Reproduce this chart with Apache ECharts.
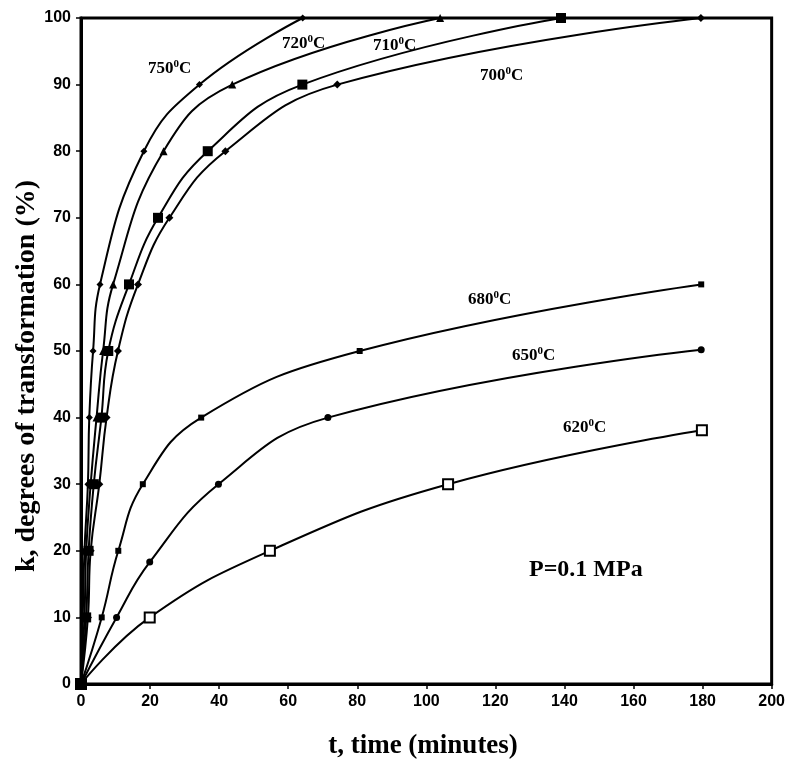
<!DOCTYPE html>
<html><head><meta charset="utf-8">
<script src="https://cdn.jsdelivr.net/npm/echarts@6/dist/echarts.min.js"></script>
<style>html,body{margin:0;padding:0;background:#fff}#c{width:788px;height:770px}</style>
</head><body><div id="c"></div>
<script>
// time (minutes), degree of transformation (%)
const t750 = [0, 0.5, 1, 2, 2.4, 3.5, 5.5, 18.2, 34.3, 64.2];
const k750 = [0, 10, 20, 30, 40, 50, 60, 80, 90, 100];
const t720 = [0, 1, 1.5, 2.8, 4.5, 6.4, 9.3, 23.9, 43.8, 104];
const k720 = [0, 10, 20, 30, 40, 50, 60, 80, 90, 100];
const t710 = [0, 1.5, 2.2, 3.7, 5.9, 7.9, 13.9, 22.3, 36.7, 64.1, 139];
const k710 = [0, 10, 20, 30, 40, 50, 60, 70, 80, 90, 100];
const t700 = [0, 2, 2.8, 5.3, 7.4, 10.7, 16.5, 25.6, 41.8, 74.2, 179.5];
const k700 = [0, 10, 20, 30, 40, 50, 60, 70, 80, 90, 100];
const t680 = [0, 6, 10.8, 17.9, 34.8, 80.7, 179.6];
const k680 = [0, 10, 20, 30, 40, 50, 60];
const t650 = [0, 10.3, 19.9, 39.8, 71.5, 179.6];
const k650 = [0, 10, 18.3, 30, 40, 50.2];
const t620 = [0, 19.9, 54.7, 106.3, 179.8];
const k620 = [0, 10, 20, 30, 38.1];
const xTicks = [0, 20, 40, 60, 80, 100, 120, 140, 160, 180, 200];
const yTicks = [0, 10, 20, 30, 40, 50, 60, 70, 80, 90, 100];

const pair = (xs, ys) => xs.map((x, i) => [x, ys[i]]);
const serif = '"Liberation Serif", "Times New Roman", serif';
const sans = '"Liberation Sans", Arial, sans-serif';

function line(name, xs, ys, symbol, size, hollow) {
  return {
    name, type: 'line', data: pair(xs, ys), smooth: 0.45,
    symbol, symbolSize: size, showSymbol: true,
    lineStyle: { color: '#000', width: 2 },
    itemStyle: hollow ? { color: '#fff', borderColor: '#000', borderWidth: 2 } : { color: '#000', borderWidth: 0 },
    z: hollow ? 1 : 2, animation: false
  };
}

const chart = echarts.init(document.getElementById('c'), null, { renderer: 'canvas' });
function lbl(num, x, y) {
  return { type: 'text', left: x, top: y, z: 10,
    style: { text: num + '{s|0}C', font: 'bold 17px ' + serif, fill: '#000',
      rich: { s: { fontSize: 11, fontWeight: 'bold', fontFamily: serif, verticalAlign: 'top', lineHeight: 19 } } } };
}
chart.setOption({
  animation: false,
  backgroundColor: '#fff',
  grid: { left: 81, right: 13, top: 18, bottom: 86, show: true, borderColor: '#000', borderWidth: 3 },
  xAxis: {
    type: 'value', min: 0, max: 200, interval: 20,
    axisLine: { lineStyle: { color: '#000', width: 3 } },
    axisTick: { show: true, inside: false, length: 5, lineStyle: { color: '#000', width: 1.5 } },
    axisLabel: { fontFamily: sans, fontWeight: 'bold', fontSize: 16, color: '#000', margin: 10,
      formatter: v => xTicks.includes(v) ? String(v) : '' },
    splitLine: { show: false }
  },
  yAxis: {
    type: 'value', min: 0, max: 100, interval: 10,
    axisLine: { lineStyle: { color: '#000', width: 3 } },
    axisTick: { show: true, inside: false, length: 5, lineStyle: { color: '#000', width: 1.5 } },
    axisLabel: { fontFamily: sans, fontWeight: 'bold', fontSize: 16, color: '#000', margin: 10,
      formatter: v => yTicks.includes(v) ? String(v) : '' },
    splitLine: { show: false }
  },
  series: [
    line('750', t750, k750, 'diamond', 7),
    line('720', t720, k720, 'triangle', 8),
    line('710', t710, k710, 'rect', 10),
    line('700', t700, k700, 'diamond', 8),
    line('680', t680, k680, 'rect', 6),
    line('650', t650, k650, 'circle', 7),
    line('620', t620, k620, 'rect', 10, true)
  ],
  graphic: [
    lbl('750', 148, 59),
    lbl('720', 282, 34),
    lbl('710', 373, 36),
    lbl('700', 480, 66),
    lbl('680', 468, 290),
    lbl('650', 512, 346),
    lbl('620', 563, 418),
    { type: 'text', left: 529, top: 558, z: 10,
      style: { text: 'P=0.1 MPa', font: 'bold 24px ' + serif, fill: '#000' } },
    { type: 'text', x: 423, y: 746, z: 10,
      style: { text: 't, time (minutes)', font: 'bold 27px ' + serif, fill: '#000', align: 'center', verticalAlign: 'middle' } },
    { type: 'text', x: 27, y: 376, rotation: Math.PI / 2, z: 10,
      style: { text: 'k, degrees of transformation (%)', font: 'bold 28px ' + serif, fill: '#000', align: 'center', verticalAlign: 'middle' } }
  ]
});
</script></body></html>
